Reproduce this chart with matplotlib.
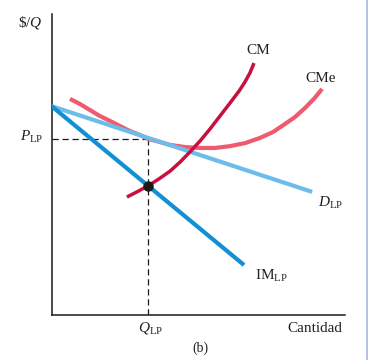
import matplotlib
matplotlib.use("Agg")
import matplotlib.pyplot as plt
from matplotlib.patches import Rectangle

# ---- data (arbitrary units 0..100) ----
d_q = [0.0, 88.8]
d_p = [69.4, 40.9]

im_q = [0.0, 65.6]
im_p = [69.4, 16.6]

cm_q = [25.7, 29.1, 32.9, 36.6, 40.4, 43.8, 47.2, 50.6, 54.0, 57.4, 60.8, 63.9, 65.9, 67.6, 69.0]
cm_p = [39.2, 40.9, 42.9, 45.2, 47.8, 50.8, 54.2, 57.8, 61.8, 66.1, 70.4, 74.4, 77.4, 80.4, 83.7]

cme_q = [6.3, 9.7, 13.1, 16.5, 19.9, 23.3, 26.7, 30.2, 32.9, 36.9, 40.4, 45.5,
         50.6, 55.7, 60.8, 65.9, 71.0, 75.5, 79.6, 83.0, 86.4, 89.4, 92.2]
cme_p = [71.8, 70.1, 68.1, 66.1, 64.5, 62.8, 61.1, 59.8, 58.5, 57.5, 56.5, 55.8,
         55.5, 55.5, 56.1, 57.1, 58.8, 60.8, 63.5, 65.8, 68.8, 71.8, 75.1]

q_lp = 32.9
p_lp = 58.5
p_cm_at_qlp = 42.9

# ---- style ----
plt.rcParams['font.family'] = ['Liberation Serif', 'DejaVu Serif']
plt.rcParams['mathtext.fontset'] = 'custom'
plt.rcParams['mathtext.rm'] = 'Liberation Serif'
plt.rcParams['mathtext.it'] = 'Liberation Serif:italic'

txt = '#231f20'
c_d = '#6cbde9'
c_im = '#1190d6'
c_cm = '#c8103f'
c_cme = '#ef5a6f'

fig = plt.figure(figsize=(3.68, 3.60), dpi=100)
ax = fig.add_axes([51.5/368, 45/360, (345-51.5)/368, (315-14)/360])
ax.set_xlim(0, 100)
ax.set_ylim(0, 100)
for s in ['top', 'right']:
    ax.spines[s].set_visible(False)
for s in ['left', 'bottom']:
    ax.spines[s].set_linewidth(1.1)
    ax.spines[s].set_color('#1a1a1a')
ax.set_xticks([])
ax.set_yticks([])

# dashed guides
ax.plot([0, q_lp], [p_lp, p_lp], color='#1a1a1a', lw=0.9, ls=(0, (5, 3)))
ax.plot([q_lp, q_lp], [0, p_lp], color='#1a1a1a', lw=0.9, ls=(0, (5, 3)))

# curves
ax.plot(d_q, d_p, color=c_d, lw=3.0, solid_capstyle='butt', zorder=3)
ax.plot(cme_q, cme_p, color=c_cme, lw=3.0, solid_capstyle='butt', solid_joinstyle='round', zorder=2)
ax.plot(im_q, im_p, color=c_im, lw=3.0, solid_capstyle='butt', zorder=3)
ax.plot(cm_q, cm_p, color=c_cm, lw=2.5, solid_capstyle='butt', solid_joinstyle='round', zorder=4)
ax.plot([q_lp], [p_cm_at_qlp], 'o', color='#1a1a1a', ms=6.5, zorder=5)

fs = 11
kw = dict(color=txt, fontsize=fs, clip_on=False)
ax.text(70.4, 88.0, 'CM', ha='center', va='center', **kw)
ax.text(91.8, 78.7, 'CMe', ha='center', va='center', **kw)
ax.text(90.8, 35.9, r'$D_{\mathrm{LP}}$', ha='left', va='baseline', **kw)
ax.text(69.3, 11.6, r'$\mathrm{IM}_{\mathrm{LP}}$', ha='left', va='baseline', **kw)
ax.text(33.6, -5.6, r'$Q_{\mathrm{LP}}$', ha='center', va='baseline', **kw)
ax.text(99.0, -5.6, 'Cantidad', ha='right', va='baseline', **kw)
ax.text(50.9, -12.3, '(b)', ha='center', va='baseline', color=txt, fontsize=10, clip_on=False)
ax.text(-2.9, 57.8, r'$P_{\mathrm{LP}}$', ha='right', va='baseline', **kw)
ax.text(-2.9, 95.7, r'\$/$Q$', ha='right', va='baseline', **kw)

# right border strip
fig.patches.append(Rectangle((366/368, 0), 2/368, 1, transform=fig.transFigure,
                             facecolor='#b3c5e3', edgecolor='none'))

fig.savefig('out.png', dpi=100)
